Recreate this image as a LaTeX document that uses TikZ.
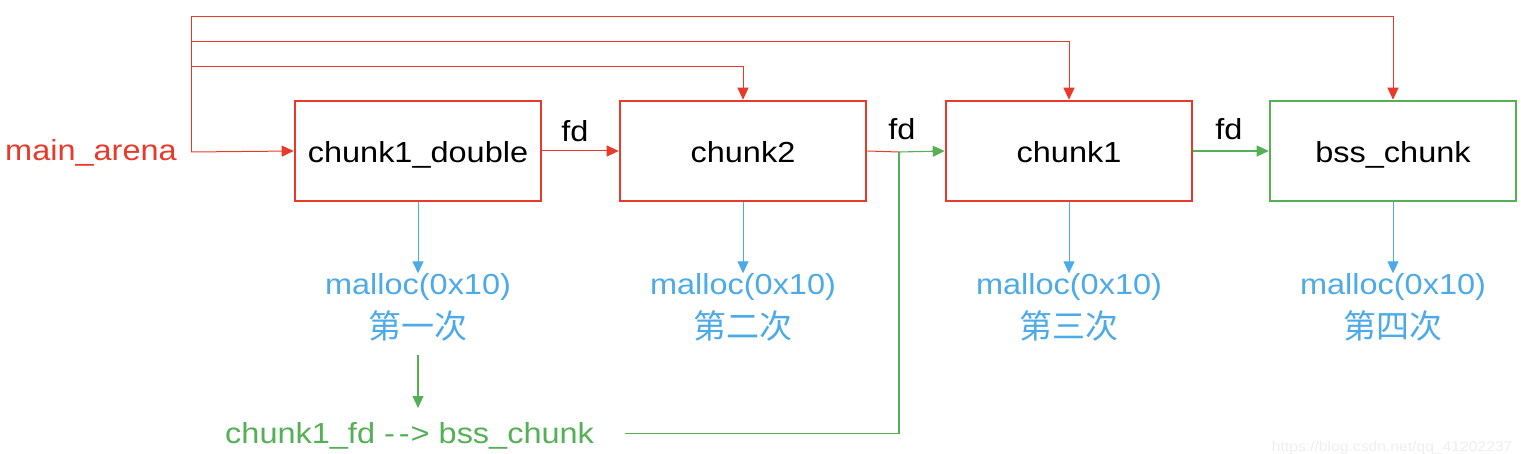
\documentclass[tikz,border=0pt]{standalone}
\usepackage{fontspec}
\setmainfont{Liberation Sans}[FakeStretch=1.12]
\newfontfamily\cjk{Noto Sans CJK SC}
\usetikzlibrary{arrows.meta}
\definecolor{cred}{RGB}{232,58,42}
\definecolor{cgreen}{RGB}{84,176,84}
\definecolor{cblue}{RGB}{76,170,232}
\definecolor{cwm}{RGB}{238,238,238}
\tikzset{
  chunkbox/.style={draw=cred, line width=2.6pt, minimum width=246pt, minimum height=100pt, inner sep=0pt,
    font=\fontsize{29}{32}\selectfont, text=black, text height=30pt, text depth=6pt},
  bssbox/.style={chunkbox, draw=cgreen},
  rline/.style={draw=cred, color=cred, line width=1pt},
  gline/.style={draw=cgreen, color=cgreen, line width=1.1pt},
  bline/.style={draw=cblue, color=cblue, line width=1pt},
  tip/.style={-{Triangle[length=12pt,width=11pt]}},
  lbl/.style={font=\fontsize{29}{32}\selectfont, inner sep=0pt},
  mlc/.style={font=\fontsize{29}{32}\selectfont, text=cblue, inner sep=0pt},
  cjklbl/.style={font=\cjk\fontsize{33}{36}\selectfont, text=cblue, inner sep=0pt},
}
\begin{document}
\begin{tikzpicture}[x=1pt,y=-1pt]
\useasboundingbox (0,0) rectangle (1521,454);
% boxes
\node[chunkbox] (b1) at (418,151) {chunk1\_double};
\node[chunkbox] (b2) at (743,151) {chunk2};
\node[chunkbox] (b3) at (1069,151) {chunk1};
\node[bssbox]   (b4) at (1393,151) {bss\_chunk};
% chunk1_fd --> bss_chunk
\node[lbl, text=cgreen, anchor=west] (fdtext) at (225,436) {chunk1\_fd -\kern4pt-\kern1pt> bss\_chunk};
\coordinate (g) at (899,152);
\coordinate (gl) at (625,433.5);
\draw[gline] (gl) -| (g);
\coordinate (gs) at (418,355);
\coordinate (ge) at (418,408);
\draw[gline,tip] (gs) -- (ge);
% main arena
\node[lbl, text=cred, anchor=west] (ma) at (5,153) {main\_arena};
\coordinate (J) at (191,152);
\coordinate (t1) at (191,67);
\coordinate (t2) at (191,42);
\coordinate (t3) at (191,17);
\draw[rline] (J) -- (t3);
\draw[rline,tip] (J) -- (b1.west);
\draw[rline,tip] (t1) -| (b2.north);
\draw[rline,tip] (t2) -| (b3.north);
\draw[rline,tip] (t3) -| (b4.north);
% fd links
\draw[rline,tip] (b1.east) -- (b2.west);
\draw[rline] (b2.east) -- (g);
\draw[gline,tip] (g) -- (b3.west);
\draw[gline,tip] (b3.east) -- (b4.west);
\node[lbl] (fd1) at (575,131) {fd};
\node[lbl] (fd2) at (902,129) {fd};
\node[lbl] (fd3) at (1229,129) {fd};
% malloc labels
\foreach \b/\x/\c in {b1/418/第一次, b2/743/第二次, b3/1069/第三次, b4/1393/第四次}{
  \node[mlc] (m\b) at (\x,287) {malloc(0x10)};
  \node[cjklbl] (c\b) at (\x,326) {\c};
  \draw[bline,tip] (\b.south) -- (m\b.north);
}
% watermark
\node[font=\fontsize{14}{16}\selectfont, text=cwm, anchor=east] (wm) at (1516,448) {https://blog.csdn.net/qq\_41202237};
\end{tikzpicture}
\end{document}
